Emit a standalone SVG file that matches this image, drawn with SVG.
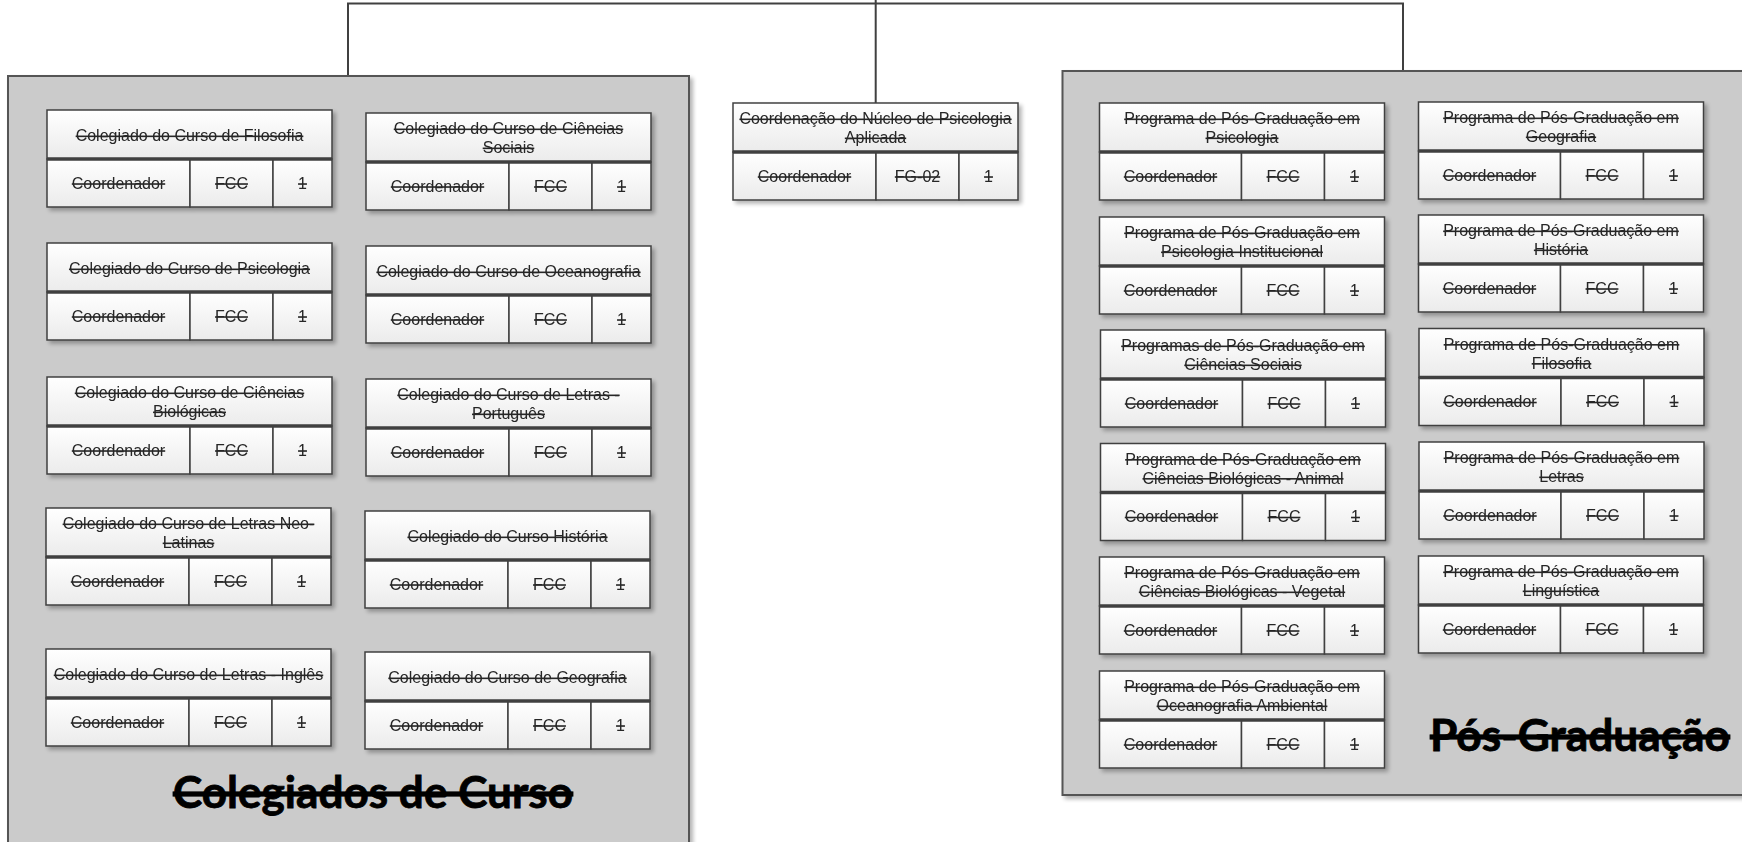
<svg xmlns="http://www.w3.org/2000/svg" width="1742" height="842" viewBox="0 0 1742 842">
<defs>
<linearGradient id="cellg" x1="0" y1="0" x2="0" y2="1">
<stop offset="0" stop-color="#ffffff"/>
<stop offset="1" stop-color="#ebebeb"/>
</linearGradient>
<filter id="shd" x="-5%" y="-5%" width="115%" height="115%">
<feGaussianBlur in="SourceAlpha" stdDeviation="2"/>
<feOffset dx="3" dy="3" result="b"/>
<feComponentTransfer><feFuncA type="linear" slope="0.3"/></feComponentTransfer>
<feMerge><feMergeNode/><feMergeNode in="SourceGraphic"/></feMerge>
</filter>
</defs>
<style>
.cont{fill:#cbcbcb;stroke:#555555;stroke-width:2}
.cell{fill:url(#cellg);stroke:#404040;stroke-width:1.5}
.div{stroke:#404040;stroke-width:3.5}
.conn{fill:none;stroke:#404040;stroke-width:2}
.t{font-family:"Liberation Sans",Arial,sans-serif;font-size:16px;fill:#262626;text-anchor:middle;text-decoration:line-through}
.big{font-family:Lato,"Open Sans",sans-serif;font-weight:bold;font-size:43px;fill:#000;text-anchor:middle;text-decoration:line-through;stroke:#000;stroke-width:0.8}
</style>

<g id="connectors">
<path class="conn" d="M348,77 V3.5 H1403 V71"/>
<path class="conn" d="M875.7,0 V103"/>
</g>

<g id="colegiados">
<rect class="cont" x="8" y="76" width="681" height="800" filter="url(#shd)"/>
<text class="big" x="373" y="808" textLength="400" lengthAdjust="spacingAndGlyphs">Colegiados de Curso</text>
</g>

<g id="posgraduacao">
<rect class="cont" x="1062.5" y="71" width="700" height="724" filter="url(#shd)"/>
<text class="big" x="1580" y="751" textLength="300" lengthAdjust="spacingAndGlyphs">Pós-Graduação</text>
</g>

<!-- Left column A -->
<g id="col-filosofia" transform="translate(47,110)" filter="url(#shd)">
<rect class="cell" x="0" y="0" width="285" height="49"/>
<rect class="cell" x="0" y="49" width="143" height="48"/><rect class="cell" x="143" y="49" width="83" height="48"/><rect class="cell" x="226" y="49" width="59" height="48"/>
<line class="div" x1="0" y1="49" x2="285" y2="49"/>
<text class="t" x="142.5" y="31">Colegiado do Curso de Filosofia</text>
<text class="t" x="71.5" y="78.7">Coordenador</text><text class="t" x="184.5" y="78.7">FCC</text><text class="t" x="255.5" y="78.7">1</text>
</g>

<g id="col-psicologia" transform="translate(47,243)" filter="url(#shd)">
<rect class="cell" x="0" y="0" width="285" height="49"/>
<rect class="cell" x="0" y="49" width="143" height="48"/><rect class="cell" x="143" y="49" width="83" height="48"/><rect class="cell" x="226" y="49" width="59" height="48"/>
<line class="div" x1="0" y1="49" x2="285" y2="49"/>
<text class="t" x="142.5" y="31">Colegiado do Curso de Psicologia</text>
<text class="t" x="71.5" y="78.7">Coordenador</text><text class="t" x="184.5" y="78.7">FCC</text><text class="t" x="255.5" y="78.7">1</text>
</g>

<g id="col-biologicas" transform="translate(47,377)" filter="url(#shd)">
<rect class="cell" x="0" y="0" width="285" height="49"/>
<rect class="cell" x="0" y="49" width="143" height="48"/><rect class="cell" x="143" y="49" width="83" height="48"/><rect class="cell" x="226" y="49" width="59" height="48"/>
<line class="div" x1="0" y1="49" x2="285" y2="49"/>
<text class="t" x="142.5" y="21">Colegiado do Curso de Ciências</text>
<text class="t" x="142.5" y="40">Biológicas</text>
<text class="t" x="71.5" y="78.7">Coordenador</text><text class="t" x="184.5" y="78.7">FCC</text><text class="t" x="255.5" y="78.7">1</text>
</g>

<g id="col-neolatinas" transform="translate(46,508)" filter="url(#shd)">
<rect class="cell" x="0" y="0" width="285" height="49"/>
<rect class="cell" x="0" y="49" width="143" height="48"/><rect class="cell" x="143" y="49" width="83" height="48"/><rect class="cell" x="226" y="49" width="59" height="48"/>
<line class="div" x1="0" y1="49" x2="285" y2="49"/>
<text class="t" x="142.5" y="21">Colegiado do Curso de Letras Neo-</text>
<text class="t" x="142.5" y="40">Latinas</text>
<text class="t" x="71.5" y="78.7">Coordenador</text><text class="t" x="184.5" y="78.7">FCC</text><text class="t" x="255.5" y="78.7">1</text>
</g>

<g id="col-ingles" transform="translate(46,649)" filter="url(#shd)">
<rect class="cell" x="0" y="0" width="285" height="49"/>
<rect class="cell" x="0" y="49" width="143" height="48"/><rect class="cell" x="143" y="49" width="83" height="48"/><rect class="cell" x="226" y="49" width="59" height="48"/>
<line class="div" x1="0" y1="49" x2="285" y2="49"/>
<text class="t" x="142.5" y="31">Colegiado do Curso de Letras - Inglês</text>
<text class="t" x="71.5" y="78.7">Coordenador</text><text class="t" x="184.5" y="78.7">FCC</text><text class="t" x="255.5" y="78.7">1</text>
</g>

<!-- Left column B -->
<g id="col-sociais" transform="translate(366,113)" filter="url(#shd)">
<rect class="cell" x="0" y="0" width="285" height="49"/>
<rect class="cell" x="0" y="49" width="143" height="48"/><rect class="cell" x="143" y="49" width="83" height="48"/><rect class="cell" x="226" y="49" width="59" height="48"/>
<line class="div" x1="0" y1="49" x2="285" y2="49"/>
<text class="t" x="142.5" y="21">Colegiado do Curso de Ciências</text>
<text class="t" x="142.5" y="40">Sociais</text>
<text class="t" x="71.5" y="78.7">Coordenador</text><text class="t" x="184.5" y="78.7">FCC</text><text class="t" x="255.5" y="78.7">1</text>
</g>

<g id="col-oceanografia" transform="translate(366,246)" filter="url(#shd)">
<rect class="cell" x="0" y="0" width="285" height="49"/>
<rect class="cell" x="0" y="49" width="143" height="48"/><rect class="cell" x="143" y="49" width="83" height="48"/><rect class="cell" x="226" y="49" width="59" height="48"/>
<line class="div" x1="0" y1="49" x2="285" y2="49"/>
<text class="t" x="142.5" y="31">Colegiado do Curso de Oceanografia</text>
<text class="t" x="71.5" y="78.7">Coordenador</text><text class="t" x="184.5" y="78.7">FCC</text><text class="t" x="255.5" y="78.7">1</text>
</g>

<g id="col-portugues" transform="translate(366,379)" filter="url(#shd)">
<rect class="cell" x="0" y="0" width="285" height="49"/>
<rect class="cell" x="0" y="49" width="143" height="48"/><rect class="cell" x="143" y="49" width="83" height="48"/><rect class="cell" x="226" y="49" width="59" height="48"/>
<line class="div" x1="0" y1="49" x2="285" y2="49"/>
<text class="t" x="142.5" y="21">Colegiado do Curso de Letras -</text>
<text class="t" x="142.5" y="40">Português</text>
<text class="t" x="71.5" y="78.7">Coordenador</text><text class="t" x="184.5" y="78.7">FCC</text><text class="t" x="255.5" y="78.7">1</text>
</g>

<g id="col-historia" transform="translate(365,511)" filter="url(#shd)">
<rect class="cell" x="0" y="0" width="285" height="49"/>
<rect class="cell" x="0" y="49" width="143" height="48"/><rect class="cell" x="143" y="49" width="83" height="48"/><rect class="cell" x="226" y="49" width="59" height="48"/>
<line class="div" x1="0" y1="49" x2="285" y2="49"/>
<text class="t" x="142.5" y="31">Colegiado do Curso História</text>
<text class="t" x="71.5" y="78.7">Coordenador</text><text class="t" x="184.5" y="78.7">FCC</text><text class="t" x="255.5" y="78.7">1</text>
</g>

<g id="col-geografia" transform="translate(365,652)" filter="url(#shd)">
<rect class="cell" x="0" y="0" width="285" height="49"/>
<rect class="cell" x="0" y="49" width="143" height="48"/><rect class="cell" x="143" y="49" width="83" height="48"/><rect class="cell" x="226" y="49" width="59" height="48"/>
<line class="div" x1="0" y1="49" x2="285" y2="49"/>
<text class="t" x="142.5" y="31">Colegiado do Curso de Geografia</text>
<text class="t" x="71.5" y="78.7">Coordenador</text><text class="t" x="184.5" y="78.7">FCC</text><text class="t" x="255.5" y="78.7">1</text>
</g>

<!-- Center -->
<g id="nucleo-psicologia" transform="translate(733,103)" filter="url(#shd)">
<rect class="cell" x="0" y="0" width="285" height="49"/>
<rect class="cell" x="0" y="49" width="143" height="48"/><rect class="cell" x="143" y="49" width="83" height="48"/><rect class="cell" x="226" y="49" width="59" height="48"/>
<line class="div" x1="0" y1="49" x2="285" y2="49"/>
<text class="t" x="142.5" y="21">Coordenação do Núcleo de Psicologia</text>
<text class="t" x="142.5" y="40">Aplicada</text>
<text class="t" x="71.5" y="78.7">Coordenador</text><text class="t" x="184.5" y="78.7">FG-02</text><text class="t" x="255.5" y="78.7">1</text>
</g>

<!-- Right column A -->
<g id="ppg-psicologia" transform="translate(1099.5,103)" filter="url(#shd)">
<rect class="cell" x="0" y="0" width="285" height="49"/>
<rect class="cell" x="0" y="49" width="142" height="48"/><rect class="cell" x="142" y="49" width="83" height="48"/><rect class="cell" x="225" y="49" width="60" height="48"/>
<line class="div" x1="0" y1="49" x2="285" y2="49"/>
<text class="t" x="142.5" y="21">Programa de Pós-Graduação em</text>
<text class="t" x="142.5" y="40">Psicologia</text>
<text class="t" x="71" y="78.7">Coordenador</text><text class="t" x="183.5" y="78.7">FCC</text><text class="t" x="255" y="78.7">1</text>
</g>

<g id="ppg-psicologia-inst" transform="translate(1099.5,217)" filter="url(#shd)">
<rect class="cell" x="0" y="0" width="285" height="49"/>
<rect class="cell" x="0" y="49" width="142" height="48"/><rect class="cell" x="142" y="49" width="83" height="48"/><rect class="cell" x="225" y="49" width="60" height="48"/>
<line class="div" x1="0" y1="49" x2="285" y2="49"/>
<text class="t" x="142.5" y="21">Programa de Pós-Graduação em</text>
<text class="t" x="142.5" y="40">Psicologia Institucional</text>
<text class="t" x="71" y="78.7">Coordenador</text><text class="t" x="183.5" y="78.7">FCC</text><text class="t" x="255" y="78.7">1</text>
</g>

<g id="ppg-sociais" transform="translate(1100.5,330)" filter="url(#shd)">
<rect class="cell" x="0" y="0" width="285" height="49"/>
<rect class="cell" x="0" y="49" width="142" height="48"/><rect class="cell" x="142" y="49" width="83" height="48"/><rect class="cell" x="225" y="49" width="60" height="48"/>
<line class="div" x1="0" y1="49" x2="285" y2="49"/>
<text class="t" x="142.5" y="21">Programas de Pós-Graduação em</text>
<text class="t" x="142.5" y="40">Ciências Sociais</text>
<text class="t" x="71" y="78.7">Coordenador</text><text class="t" x="183.5" y="78.7">FCC</text><text class="t" x="255" y="78.7">1</text>
</g>

<g id="ppg-animal" transform="translate(1100.5,443.5)" filter="url(#shd)">
<rect class="cell" x="0" y="0" width="285" height="49"/>
<rect class="cell" x="0" y="49" width="142" height="48"/><rect class="cell" x="142" y="49" width="83" height="48"/><rect class="cell" x="225" y="49" width="60" height="48"/>
<line class="div" x1="0" y1="49" x2="285" y2="49"/>
<text class="t" x="142.5" y="21">Programa de Pós-Graduação em</text>
<text class="t" x="142.5" y="40">Ciências Biológicas - Animal</text>
<text class="t" x="71" y="78.7">Coordenador</text><text class="t" x="183.5" y="78.7">FCC</text><text class="t" x="255" y="78.7">1</text>
</g>

<g id="ppg-vegetal" transform="translate(1099.5,557)" filter="url(#shd)">
<rect class="cell" x="0" y="0" width="285" height="49"/>
<rect class="cell" x="0" y="49" width="142" height="48"/><rect class="cell" x="142" y="49" width="83" height="48"/><rect class="cell" x="225" y="49" width="60" height="48"/>
<line class="div" x1="0" y1="49" x2="285" y2="49"/>
<text class="t" x="142.5" y="21">Programa de Pós-Graduação em</text>
<text class="t" x="142.5" y="40">Ciências Biológicas - Vegetal</text>
<text class="t" x="71" y="78.7">Coordenador</text><text class="t" x="183.5" y="78.7">FCC</text><text class="t" x="255" y="78.7">1</text>
</g>

<g id="ppg-oceanografia" transform="translate(1099.5,671)" filter="url(#shd)">
<rect class="cell" x="0" y="0" width="285" height="49"/>
<rect class="cell" x="0" y="49" width="142" height="48"/><rect class="cell" x="142" y="49" width="83" height="48"/><rect class="cell" x="225" y="49" width="60" height="48"/>
<line class="div" x1="0" y1="49" x2="285" y2="49"/>
<text class="t" x="142.5" y="21">Programa de Pós-Graduação em</text>
<text class="t" x="142.5" y="40">Oceanografia Ambiental</text>
<text class="t" x="71" y="78.7">Coordenador</text><text class="t" x="183.5" y="78.7">FCC</text><text class="t" x="255" y="78.7">1</text>
</g>

<!-- Right column B -->
<g id="ppg-geografia" transform="translate(1418.5,102)" filter="url(#shd)">
<rect class="cell" x="0" y="0" width="285" height="49"/>
<rect class="cell" x="0" y="49" width="142" height="48"/><rect class="cell" x="142" y="49" width="83" height="48"/><rect class="cell" x="225" y="49" width="60" height="48"/>
<line class="div" x1="0" y1="49" x2="285" y2="49"/>
<text class="t" x="142.5" y="21">Programa de Pós-Graduação em</text>
<text class="t" x="142.5" y="40">Geografia</text>
<text class="t" x="71" y="78.7">Coordenador</text><text class="t" x="183.5" y="78.7">FCC</text><text class="t" x="255" y="78.7">1</text>
</g>

<g id="ppg-historia" transform="translate(1418.5,215)" filter="url(#shd)">
<rect class="cell" x="0" y="0" width="285" height="49"/>
<rect class="cell" x="0" y="49" width="142" height="48"/><rect class="cell" x="142" y="49" width="83" height="48"/><rect class="cell" x="225" y="49" width="60" height="48"/>
<line class="div" x1="0" y1="49" x2="285" y2="49"/>
<text class="t" x="142.5" y="21">Programa de Pós-Graduação em</text>
<text class="t" x="142.5" y="40">História</text>
<text class="t" x="71" y="78.7">Coordenador</text><text class="t" x="183.5" y="78.7">FCC</text><text class="t" x="255" y="78.7">1</text>
</g>

<g id="ppg-filosofia" transform="translate(1419,328.5)" filter="url(#shd)">
<rect class="cell" x="0" y="0" width="285" height="49"/>
<rect class="cell" x="0" y="49" width="142" height="48"/><rect class="cell" x="142" y="49" width="83" height="48"/><rect class="cell" x="225" y="49" width="60" height="48"/>
<line class="div" x1="0" y1="49" x2="285" y2="49"/>
<text class="t" x="142.5" y="21">Programa de Pós-Graduação em</text>
<text class="t" x="142.5" y="40">Filosofia</text>
<text class="t" x="71" y="78.7">Coordenador</text><text class="t" x="183.5" y="78.7">FCC</text><text class="t" x="255" y="78.7">1</text>
</g>

<g id="ppg-letras" transform="translate(1419,442)" filter="url(#shd)">
<rect class="cell" x="0" y="0" width="285" height="49"/>
<rect class="cell" x="0" y="49" width="142" height="48"/><rect class="cell" x="142" y="49" width="83" height="48"/><rect class="cell" x="225" y="49" width="60" height="48"/>
<line class="div" x1="0" y1="49" x2="285" y2="49"/>
<text class="t" x="142.5" y="21">Programa de Pós-Graduação em</text>
<text class="t" x="142.5" y="40">Letras</text>
<text class="t" x="71" y="78.7">Coordenador</text><text class="t" x="183.5" y="78.7">FCC</text><text class="t" x="255" y="78.7">1</text>
</g>

<g id="ppg-linguistica" transform="translate(1418.5,556)" filter="url(#shd)">
<rect class="cell" x="0" y="0" width="285" height="49"/>
<rect class="cell" x="0" y="49" width="142" height="48"/><rect class="cell" x="142" y="49" width="83" height="48"/><rect class="cell" x="225" y="49" width="60" height="48"/>
<line class="div" x1="0" y1="49" x2="285" y2="49"/>
<text class="t" x="142.5" y="21">Programa de Pós-Graduação em</text>
<text class="t" x="142.5" y="40">Linguística</text>
<text class="t" x="71" y="78.7">Coordenador</text><text class="t" x="183.5" y="78.7">FCC</text><text class="t" x="255" y="78.7">1</text>
</g>
</svg>
